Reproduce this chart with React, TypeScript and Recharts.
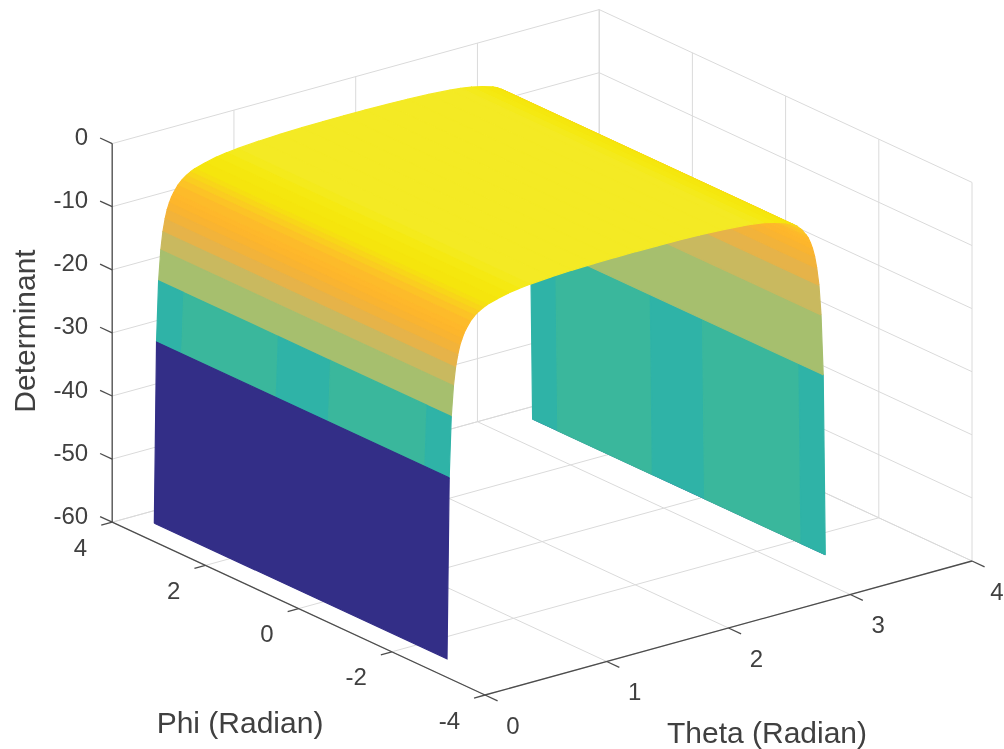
import React from 'react';
import { Area, ComposedChart, Line, Scatter, XAxis, YAxis } from 'recharts';

const WIDTH = 1004;
const HEIGHT = 749;

const thetaTicks = [0, 1, 2, 3, 4];
const phiTicks = [-4, -2, 0, 2, 4];
const detTicks = [-60, -50, -40, -30, -20, -10, 0];

// surface rows, the colour of a facet comes from its lower theta row
const surfaceTheta = [
    0.017, 0.035, 0.052, 0.07, 0.087, 0.105, 0.122, 0.14, 0.157, 0.175, 0.209, 0.244, 0.279, 0.314, 0.349, 0.436,
    0.524, 0.611, 0.698, 0.873, 1.047, 1.222, 1.396, 1.571, 1.745, 1.92, 2.094, 2.269, 2.443, 2.531, 2.618, 2.705,
    2.793, 2.827, 2.862, 2.897, 2.932, 2.967, 2.985, 3.002, 3.019, 3.037, 3.054, 3.072, 3.089, 3.107, 3.124,
];
const surfaceDet = [
    -57.3, -28.7, -19.1, -14.3, -11.5, -9.6, -8.2, -7.2, -6.4, -5.8, -4.8, -4.1, -3.6, -3.2, -2.9, -2.4, -2.0, -1.74,
    -1.56, -1.31, -1.15, -1.06, -1.02, -1.0, -1.02, -1.06, -1.15, -1.31, -1.56, -1.74, -2.0, -2.4, -2.9, -3.2, -3.6,
    -4.1, -4.8, -5.8, -6.4, -7.2, -8.2, -9.6, -11.5, -14.3, -19.1, -28.7, -57.3,
];
const TEAL = 'teal';
const surfaceColor = [
    '#332e87', TEAL, '#a6bf6e', '#c9b95f', '#e6b349', '#f2b33a', '#f9b431', '#fdb62c', '#feb82b', '#fdbb2a', '#fcc326',
    '#facd20', '#f8d619', '#f6df12', '#f5e50d', '#f5e70e', '#f5e912', '#f4ea1c', '#f4ea24', '#f4ea24', '#f4ea24',
    '#f4ea24', '#f4ea24', '#f4ea24', '#f4ea24', '#f4ea24', '#f4ea24', '#f4ea24', '#f4ea24', '#f4ea1c', '#f5e912',
    '#f5e70e', '#f5e50d', '#f6df12', '#f8d619', '#facd20', '#fcc326', '#fdbb2a', '#feb82b', '#fdb62c', '#f9b431',
    '#f2b33a', '#e6b349', '#c9b95f', '#a6bf6e', TEAL,
];
const surfacePhiEnds = [-3.14, 3.14];
const tealPhi = [-3.14, -2.62, -0.55, 0.57, 2.6, 3.14];
const tealShades = ['#2fb3a7', '#3ab79c', '#2fb3a7', '#3ab79c', '#2fb3a7'];

// fixed view of the box, MATLAB's default orthographic angle
const project = (theta: number, phi: number, det: number) => ({
    x: 485 + 121.75 * theta - 46.6 * (phi + 4),
    y: 695 - 33.5 * theta - 21.6 * (phi + 4) - 6.31 * (det + 60),
});

type Pt = { x: number; y: number };

// a facet as low/high pairs over x, so that an Area can fill it
const toRange = (poly: Pt[]) => {
    const xs = Array.from(new Set(poly.map((p) => p.x))).sort((a, b) => a - b);
    return xs.map((x) => {
        const ys: number[] = [];
        poly.forEach((p, i) => {
            const q = poly[(i + 1) % poly.length];
            if (x < Math.min(p.x, q.x) || x > Math.max(p.x, q.x)) return;
            if (p.x === q.x) ys.push(p.y, q.y);
            else ys.push(p.y + ((q.y - p.y) * (x - p.x)) / (q.x - p.x));
        });
        return { x, range: [Math.min(...ys), Math.max(...ys)] };
    });
};

const facets: { data: ReturnType<typeof toRange>; color: string }[] = [];
for (let i = surfaceTheta.length - 2; i >= 0; i--) {
    const phis = surfaceColor[i] === TEAL ? tealPhi : surfacePhiEnds;
    for (let j = phis.length - 2; j >= 0; j--) {
        const poly = [
            project(surfaceTheta[i], phis[j], surfaceDet[i]),
            project(surfaceTheta[i + 1], phis[j], surfaceDet[i + 1]),
            project(surfaceTheta[i + 1], phis[j + 1], surfaceDet[i + 1]),
            project(surfaceTheta[i], phis[j + 1], surfaceDet[i]),
        ];
        facets.push({ data: toRange(poly), color: surfaceColor[i] === TEAL ? tealShades[j] : surfaceColor[i] });
    }
}

const gridLines: Pt[][] = [];
thetaTicks.forEach((t) => {
    gridLines.push([project(t, -4, -60), project(t, 4, -60)]);
    gridLines.push([project(t, 4, -60), project(t, 4, 0)]);
});
phiTicks.forEach((p) => {
    gridLines.push([project(0, p, -60), project(4, p, -60)]);
    gridLines.push([project(4, p, -60), project(4, p, 0)]);
});
detTicks.forEach((d) => {
    gridLines.push([project(0, 4, d), project(4, 4, d)]);
    gridLines.push([project(4, 4, d), project(4, -4, d)]);
});

const axisLines: Pt[][] = [
    [project(0, 4, -60), project(0, 4, 0)],
    [project(0, 4, -60), project(0, -4, -60)],
    [project(0, -4, -60), project(4, -4, -60)],
];
detTicks.forEach((d) => axisLines.push([project(0, 4, d), project(0, 4.26, d)]));
phiTicks.forEach((p) => axisLines.push([project(0, p, -60), project(-0.09, p, -60)]));
thetaTicks.forEach((t) => axisLines.push([project(t, -4, -60), project(t, -4.27, -60)]));

// the blue first row shows as a thin edge under the far wall
const farEdge = [project(3.124, -3.14, -57.3), project(3.124, 3.14, -57.3)];

type Label = Pt & { text: string; anchor: string; size: number; rotate?: number };

const labels: Label[] = [];
detTicks.forEach((d) => {
    const p = project(0, 4, d);
    labels.push({ x: p.x - 24, y: p.y - 7, text: String(d), anchor: 'end', size: 24 });
});
phiTicks.forEach((v) => {
    const p = project(0, v, -60);
    labels.push({ x: p.x - 25, y: p.y + 25, text: String(v), anchor: 'end', size: 24 });
});
thetaTicks.forEach((v) => {
    const p = project(v, -4, -60);
    labels.push({ x: Math.min(p.x + 28, WIDTH - 7), y: p.y + 30, text: String(v), anchor: 'middle', size: 24 });
});
labels.push({ x: 24, y: 331, text: 'Determinant', anchor: 'middle', size: 30, rotate: -90 });
labels.push({ x: 240, y: 722, text: 'Phi (Radian)', anchor: 'middle', size: 30 });
labels.push({ x: 767, y: 732, text: 'Theta (Radian)', anchor: 'middle', size: 30 });

const LabelShape = (props: any) => {
    const { cx, cy, payload } = props;
    return (
        <text
            x={cx}
            y={cy}
            textAnchor={payload.anchor}
            dominantBaseline="central"
            fontFamily="Liberation Sans"
            fontSize={payload.size}
            fill="#404040"
            transform={payload.rotate ? `rotate(${payload.rotate} ${cx} ${cy})` : undefined}
        >
            {payload.text}
        </text>
    );
};

export default function App() {
    return (
        <div style={{ position: 'absolute', left: 0, top: 0, filter: 'blur(0.5px)' }}>
            <ComposedChart width={WIDTH} height={HEIGHT} margin={{ top: 0, right: 0, bottom: 0, left: 0 }}>
                <XAxis hide type="number" dataKey="x" domain={[0, WIDTH]} allowDataOverflow />
                <YAxis hide type="number" dataKey="y" domain={[0, HEIGHT]} reversed allowDataOverflow />
                {gridLines.map((d, i) => (
                    <Line
                        key={`g${i}`}
                        data={d}
                        dataKey="y"
                        dot={false}
                        stroke="#dadada"
                        strokeWidth={1}
                        isAnimationActive={false}
                        zIndex={10}
                    />
                ))}
                {axisLines.map((d, i) => (
                    <Line
                        key={`a${i}`}
                        data={d}
                        dataKey="y"
                        dot={false}
                        stroke="#4d4d4d"
                        strokeWidth={1.3}
                        isAnimationActive={false}
                        zIndex={20}
                    />
                ))}
                <Line
                    data={farEdge}
                    dataKey="y"
                    dot={false}
                    stroke="#332e87"
                    strokeWidth={1}
                    isAnimationActive={false}
                    zIndex={30}
                />
                {facets.map((f, i) => (
                    <Area
                        key={`f${i}`}
                        data={f.data}
                        dataKey="range"
                        type="linear"
                        fill={f.color}
                        fillOpacity={1}
                        stroke={f.color}
                        strokeWidth={1.2}
                        dot={false}
                        activeDot={false}
                        isAnimationActive={false}
                        zIndex={100 + i}
                    />
                ))}
                <Scatter data={labels} dataKey="y" shape={LabelShape} isAnimationActive={false} zIndex={2000} />
            </ComposedChart>
        </div>
    );
}
